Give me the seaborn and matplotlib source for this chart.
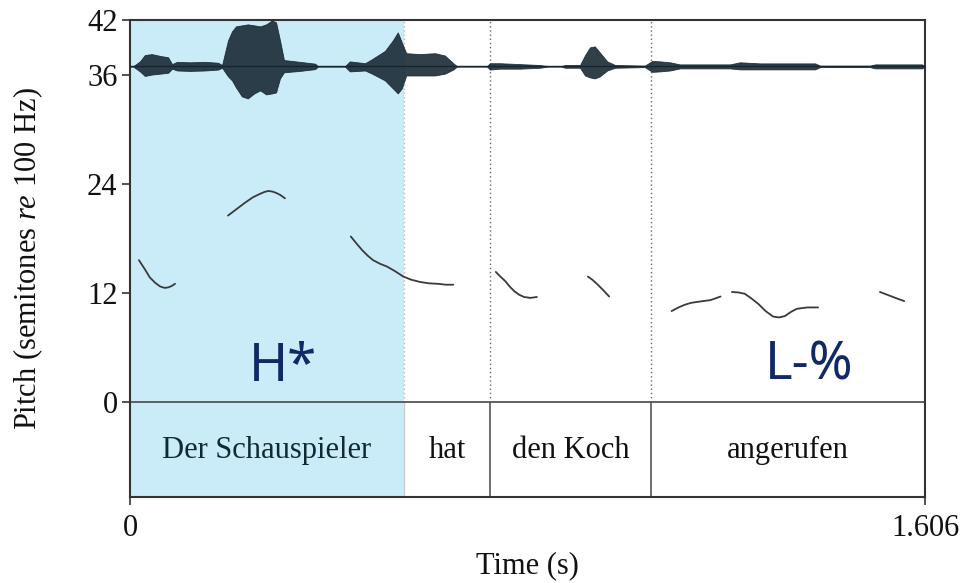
import numpy as np
import pandas as pd
import matplotlib
matplotlib.use("Agg")
import matplotlib.pyplot as plt
import seaborn as sns

# ---------------- data ----------------
DURATION = 1.606
Y_TICKS = [0, 12, 24, 36, 42]
X_TICKS = [0, 1.606]
X_TICK_LABELS = ["0", "1.606"]

word_labels = ["Der Schauspieler", "hat", "den Koch", "angerufen"]
word_bounds = [0.0, 0.5535, 0.727, 1.052, 1.606]
highlight = (0.0, 0.5535)

tone_labels = ["H*", "L-%"]
tone_times = [0.309, 1.372]
tone_pitch = [2.3, 2.5]

# pitch contour segments (time s, semitones re 100 Hz)
seg1_t = [0.018, 0.030, 0.040, 0.051, 0.061, 0.070, 0.077, 0.084, 0.091]
seg1_p = [15.6, 14.6, 13.7, 13.1, 12.7, 12.55, 12.6, 12.75, 13.0]
seg2_t = [0.198, 0.215, 0.232, 0.248, 0.263, 0.272, 0.279, 0.287, 0.295, 0.304, 0.313]
seg2_p = [20.5, 21.2, 21.9, 22.5, 22.9, 23.1, 23.2, 23.15, 23.0, 22.75, 22.4]
seg3_t = [0.446, 0.458, 0.469, 0.480, 0.491, 0.505, 0.519, 0.535, 0.552, 0.568, 0.586, 0.604, 0.622, 0.638, 0.653]
seg3_p = [18.2, 17.4, 16.7, 16.1, 15.6, 15.2, 14.9, 14.4, 13.8, 13.45, 13.2, 13.05, 13.0, 12.9, 12.9]
seg4_t = [0.739, 0.748, 0.758, 0.767, 0.776, 0.786, 0.796, 0.809, 0.822]
seg4_p = [14.3, 13.8, 13.3, 12.7, 12.2, 11.8, 11.55, 11.45, 11.55]
seg5_t = [0.925, 0.935, 0.945, 0.956, 0.968]
seg5_p = [13.8, 13.4, 12.9, 12.3, 11.6]
seg6_t = [1.094, 1.108, 1.121, 1.133, 1.145, 1.158, 1.172, 1.183, 1.193]
seg6_p = [10.0, 10.4, 10.7, 10.9, 11.0, 11.1, 11.2, 11.4, 11.6]
seg7_t = [1.216, 1.229, 1.242, 1.255, 1.269, 1.284, 1.299, 1.311, 1.323, 1.335, 1.347, 1.368, 1.390]
seg7_p = [12.1, 12.05, 11.9, 11.4, 10.8, 10.0, 9.4, 9.3, 9.45, 9.9, 10.25, 10.4, 10.4]
seg8_t = [1.515, 1.527, 1.539, 1.551, 1.564]
seg8_p = [12.1, 11.85, 11.6, 11.35, 11.1]

# waveform envelope (drawn around a baseline, semitone units)
wave_base = 36.9
wave_t = [0.000, 0.006, 0.020, 0.030, 0.044, 0.061, 0.077, 0.085, 0.095, 0.121,
          0.152, 0.178, 0.186, 0.198, 0.206, 0.214, 0.226, 0.238, 0.251, 0.263,
          0.275, 0.287, 0.295, 0.303, 0.311, 0.343, 0.374, 0.380, 0.434, 0.444,
          0.475, 0.489, 0.515, 0.531, 0.541, 0.549, 0.558, 0.586, 0.616, 0.636,
          0.653, 0.661, 0.721, 0.727, 0.747, 0.788, 0.828, 0.848, 0.869, 0.879,
          0.909, 0.919, 0.929, 0.939, 0.949, 0.964, 0.980, 1.040, 1.055, 1.071,
          1.091, 1.111, 1.152, 1.212, 1.232, 1.273, 1.333, 1.384, 1.394, 1.495,
          1.505, 1.556, 1.600, 1.606]
wave_up = [0.0, 0.0, 0.55, 1.25, 1.35, 1.15, 1.00, 0.25, 0.50, 0.45,
           0.50, 0.40, 0.15, 2.86, 3.85, 4.40, 4.51, 4.62, 4.51, 4.40,
           4.62, 5.05, 4.84, 2.86, 0.70, 0.50, 0.30, 0.0, 0.0, 0.55,
           0.35, 0.80, 1.70, 2.86, 3.74, 2.64, 1.45, 1.35, 1.45, 1.20,
           0.35, 0.0, 0.0, 0.35, 0.35, 0.25, 0.15, 0.0, 0.0, 0.15,
           0.15, 1.21, 2.09, 2.20, 1.54, 0.55, 0.15, 0.08, 0.60, 0.55,
           0.45, 0.22, 0.22, 0.22, 0.45, 0.33, 0.33, 0.33, 0.08, 0.08,
           0.22, 0.22, 0.22, 0.0]
wave_dn = [0.0, 0.0, 0.55, 1.05, 0.90, 0.80, 0.70, 0.25, 0.45, 0.50,
           0.45, 0.35, 0.15, 1.10, 1.54, 2.31, 3.30, 3.52, 2.97, 2.64,
           3.08, 2.97, 2.86, 1.32, 0.65, 0.50, 0.30, 0.0, 0.0, 0.55,
           0.45, 0.80, 1.54, 2.42, 2.97, 2.42, 1.00, 1.00, 1.00, 0.80,
           0.35, 0.0, 0.0, 0.35, 0.25, 0.25, 0.15, 0.0, 0.0, 0.15,
           0.15, 0.99, 1.21, 1.32, 1.10, 0.45, 0.15, 0.08, 0.60, 0.55,
           0.45, 0.22, 0.22, 0.22, 0.33, 0.33, 0.33, 0.33, 0.08, 0.08,
           0.22, 0.22, 0.22, 0.0]

Y_MIN = -10.44
Y_MAX = 42

# ---------------- styling ----------------
sns.set_style("ticks")
plt.rcParams["font.family"] = ["Liberation Serif", "DejaVu Serif"]
plt.rcParams["mathtext.fontset"] = "custom"
plt.rcParams["mathtext.rm"] = "Liberation Serif"
plt.rcParams["mathtext.it"] = "Liberation Serif:italic"

BLUE = "#c9ecf8"
LINE = "#333333"
WAVE = "#14252f"
TONE = "#0f2a66"
FS = 22

fig = plt.figure(figsize=(9.65, 5.83), dpi=100)
ax = fig.add_axes([130 / 965, 86 / 583, 795 / 965, 477 / 583])

# highlight
ax.axvspan(highlight[0], highlight[1], color=BLUE, zorder=0, lw=0)

# waveform
wt = np.array(wave_t)
ax.plot([0, DURATION], [wave_base, wave_base], color=WAVE, lw=1.0, zorder=3)
ax.fill_between(wt, wave_base - np.array(wave_dn), wave_base + np.array(wave_up),
                facecolor=WAVE, alpha=0.88, lw=0.6, edgecolor=WAVE, zorder=3)

# pitch contours via seaborn
segs = [(seg1_t, seg1_p), (seg2_t, seg2_p), (seg3_t, seg3_p), (seg4_t, seg4_p),
        (seg5_t, seg5_p), (seg6_t, seg6_p), (seg7_t, seg7_p), (seg8_t, seg8_p)]
rows = []
for i, (ts, ps) in enumerate(segs):
    for t, p in zip(ts, ps):
        rows.append({"time": t, "pitch": p, "segment": i})
df = pd.DataFrame(rows)
sns.lineplot(data=df, x="time", y="pitch", units="segment", estimator=None,
             sort=False, color="#3a3a3a", lw=1.3, ax=ax, zorder=4,
             solid_joinstyle="round", solid_capstyle="round")

# word boundaries: dotted above, solid in tier
inner = word_bounds[1:-1]
ax.vlines(inner[0], 0, Y_MAX, colors="#bbbbbb", linestyles=(0, (1, 2)), lw=1.0, zorder=2)
ax.vlines(inner[1:], 0, Y_MAX, colors="#666666", linestyles=(0, (1, 2)), lw=1.0, zorder=2)
ax.vlines(inner[0], Y_MIN, 0, colors="#cccccc", lw=1.0, zorder=2)
ax.vlines(inner[1:], Y_MIN, 0, colors="#555555", lw=1.2, zorder=2)
ax.axhline(0, color="#555555", lw=1.3, zorder=2)

# tier labels
for lab, a, b in zip(word_labels, word_bounds[:-1], word_bounds[1:]):
    ax.text((a + b) / 2, -5.3, lab, ha="center", va="center", fontsize=FS,
            color="#102a33" if a < highlight[1] else "#111111")

# tone labels
for lab, t, p in zip(tone_labels, tone_times, tone_pitch):
    ax.text(t, p, lab, ha="center", va="baseline", fontsize=38,
            family=["Noto Sans", "DejaVu Sans"], color=TONE)

ax.set_xlim(0, DURATION)
ax.set_ylim(Y_MIN, Y_MAX)
ax.set_yticks(Y_TICKS)
ax.set_yticklabels([str(v) for v in Y_TICKS])
ax.set_xticks(X_TICKS)
ax.set_xticklabels(X_TICK_LABELS)
ax.tick_params(axis="both", direction="out", length=6, width=1.2, color=LINE,
               labelsize=FS, labelcolor="#111111")
ax.tick_params(axis="x", pad=6)
ax.tick_params(axis="y", pad=3)
for s in ax.spines.values():
    s.set_color(LINE)
    s.set_linewidth(1.5)

ax.set_xlabel("Time (s)", fontsize=FS, color="#111111", labelpad=6)
ax.set_ylabel(r"Pitch (semitones $\mathit{re}$ 100 Hz)", fontsize=FS,
              color="#111111", labelpad=30)

fig.savefig("out.png", dpi=100)
